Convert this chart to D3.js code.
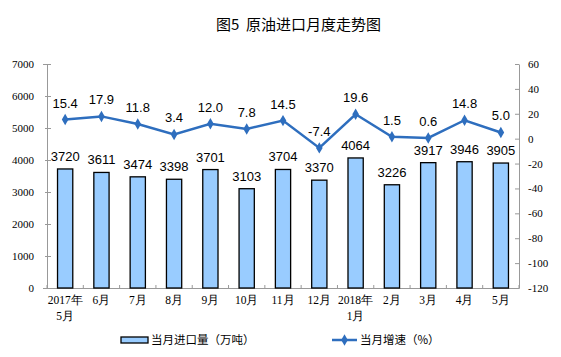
<!DOCTYPE html>
<html><head><meta charset="utf-8">
<script src="https://cdn.jsdelivr.net/npm/d3@7"></script>
<style>body{margin:0;background:#fff}svg{display:block}</style>
</head><body>
<svg id="c" width="561" height="357"></svg>
<script>
const categories = ["2017年\n5月","6月","7月","8月","9月","10月","11月","12月","2018年\n1月","2月","3月","4月","5月"];
const importVolume = [3720,3611,3474,3398,3701,3103,3704,3370,4064,3226,3917,3946,3905];
const growthRate = [15.4,17.9,11.8,3.4,12.0,7.8,14.5,-7.4,19.6,1.5,0.6,14.8,5.0];
const leftTicks = [0,1000,2000,3000,4000,5000,6000,7000];
const rightTicks = [-120,-100,-80,-60,-40,-20,0,20,40,60];
const seriesNames = ["当月进口量（万吨）","当月增速（%）"];
const title = "图5\u00a0\u00a0原油进口月度走势图";

const svg = d3.select("#c");
const L = 47, R = 519, T = 64, B = 288;
const serif = "'Liberation Serif','Times New Roman',serif";
const sans = "'Liberation Sans',Arial,sans-serif";
const cjk = "'Noto Sans CJK SC',sans-serif";

const x = d3.scaleBand().domain(categories.map((d,i)=>i)).range([L,R]).paddingInner(0.58).paddingOuter(0.29);
const xb = d3.scaleBand().domain(categories.map((d,i)=>i)).range([L,R]);
const yL = d3.scaleLinear().domain([0,7000]).range([B,T]);
const yR = d3.scaleLinear().domain([-120,60]).range([B,T]);

svg.append("text").attr("x",216).attr("y",30).attr("text-anchor","start")
  .attr("font-family",cjk).attr("font-size",15).attr("fill","#000").text(title);

// left axis
const gl = svg.append("g").attr("transform",`translate(${L},0)`)
  .call(d3.axisLeft(yL).tickValues(leftTicks).tickSize(4).tickPadding(9).tickFormat(d3.format("d")));
gl.select(".domain").attr("stroke","#999");
gl.selectAll(".tick line").attr("stroke","#999").attr("x1",-2).attr("x2",4);
gl.selectAll("text").attr("font-family",serif).attr("font-size",11).attr("fill","#000");

// right axis
const gr = svg.append("g").attr("transform",`translate(${R},0)`)
  .call(d3.axisRight(yR).tickValues(rightTicks).tickSize(0).tickPadding(9).tickFormat(d=>String(d)));
gr.select(".domain").attr("stroke","#999");
gr.selectAll(".tick line").attr("stroke","#999").attr("x1",-4).attr("x2",0);
gr.selectAll("text").attr("font-family",serif).attr("font-size",11).attr("fill","#000");

// x axis
svg.append("line").attr("x1",L).attr("x2",R).attr("y1",B+0.5).attr("y2",B+0.5).attr("stroke","#999");
svg.append("g").selectAll("line").data(d3.range(categories.length+1)).join("line")
  .attr("x1",i=>L+i*xb.step()).attr("x2",i=>L+i*xb.step()).attr("y1",B-3).attr("y2",B+1).attr("stroke","#999");
const xl = svg.append("g").selectAll("text").data(categories).join("text")
  .attr("x",(d,i)=>xb(i)+xb.bandwidth()/2).attr("y",B+16).attr("text-anchor","middle")
  .attr("font-family",serif).attr("font-size",11.5).attr("fill","#000");
xl.each(function(d){
  const parts=d.split("\n"); const t=d3.select(this);
  parts.forEach((p,k)=>t.append("tspan").attr("x",t.attr("x")).attr("dy",k?16:0).text(p));
});

// bars
svg.append("g").selectAll("rect").data(importVolume).join("rect")
  .attr("x",(d,i)=>x(i)).attr("width",x.bandwidth())
  .attr("y",d=>yL(d)).attr("height",d=>B-yL(d))
  .attr("fill","#99CCFF").attr("stroke","#000").attr("stroke-width",1.3);
svg.append("g").selectAll("text").data(importVolume).join("text")
  .attr("x",(d,i)=>xb(i)+xb.bandwidth()/2).attr("y",d=>yL(d)-8).attr("text-anchor","middle")
  .attr("font-family",sans).attr("font-size",13).attr("fill","#000").text(d=>d);

// line
const cx = i=>xb(i)+xb.bandwidth()/2;
svg.append("path").datum(growthRate)
  .attr("d",d3.line().x((d,i)=>cx(i)).y(d=>yR(d)))
  .attr("fill","none").attr("stroke","#2E6EBE").attr("stroke-width",2.5);
svg.append("g").selectAll("path").data(growthRate).join("path")
  .attr("transform",(d,i)=>`translate(${cx(i)},${yR(d)})`)
  .attr("d",d3.symbol(d3.symbolDiamond,38)).attr("fill","#2E6EBE");
svg.append("g").selectAll("text").data(growthRate).join("text")
  .attr("x",(d,i)=>cx(i)).attr("y",d=>yR(d)-12).attr("text-anchor","middle")
  .attr("font-family",sans).attr("font-size",13).attr("fill","#000").text(d=>d.toFixed(1));

// legend
svg.append("rect").attr("x",121).attr("y",337).attr("width",27).attr("height",6)
  .attr("fill","#99CCFF").attr("stroke","#000").attr("stroke-width",1.3);
svg.append("text").attr("x",151).attr("y",344).attr("font-family",cjk).attr("font-size",11.5).attr("fill","#000").text(seriesNames[0]);
svg.append("line").attr("x1",332).attr("x2",357).attr("y1",340).attr("y2",340).attr("stroke","#2E6EBE").attr("stroke-width",2.5);
svg.append("path").attr("transform","translate(344.5,340)").attr("d",d3.symbol(d3.symbolDiamond,38)).attr("fill","#2E6EBE");
svg.append("text").attr("x",360).attr("y",344).attr("font-family",cjk).attr("font-size",11.5).attr("fill","#000").text(seriesNames[1]);
</script>
</body></html>
